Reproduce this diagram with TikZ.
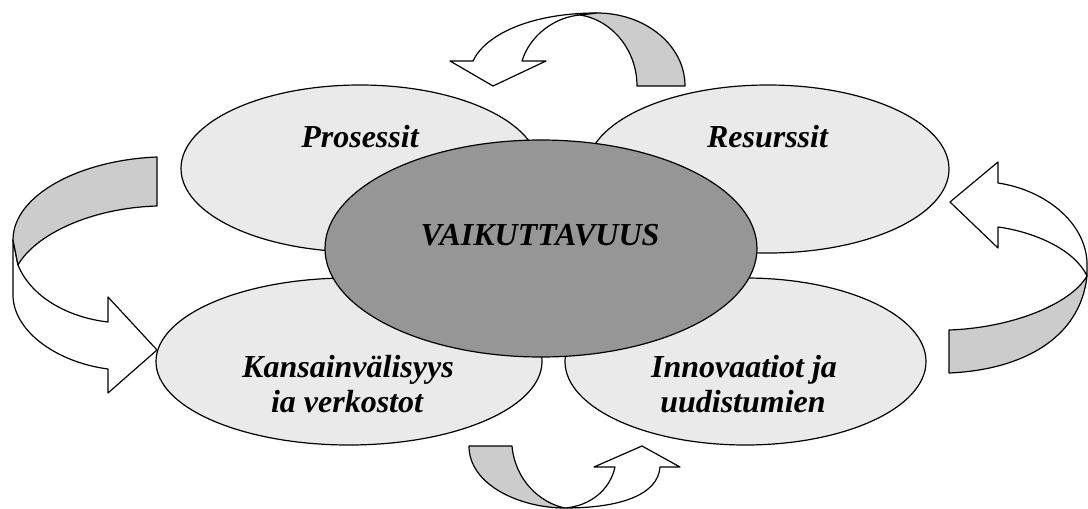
\documentclass[tikz,border=0pt]{standalone}
\usepackage{fontspec}
\setmainfont{Liberation Serif}
\usetikzlibrary{shapes.geometric}
\definecolor{petalfill}{RGB}{234,234,234}
\definecolor{corefill}{RGB}{150,150,150}
\definecolor{bandfill}{RGB}{204,204,204}
\tikzset{
  outline/.style={draw=black, line width=1.2pt, line join=round},
  petal/.style={ellipse, outline, fill=petalfill, inner sep=0pt},
  corebox/.style={ellipse, outline, fill=corefill, inner sep=0pt},
  lbl/.style={font=\fontsize{32}{35}\selectfont\bfseries\itshape, anchor=base, inner sep=0pt},
  ribbonback/.style={outline, fill=bandfill},
  ribbonfront/.style={outline, fill=white},
}
\begin{document}
\begin{tikzpicture}[x=1pt,y=-1pt]
\useasboundingbox (0,0) rectangle (1088,509);

% top curved arrow: white front band with head, grey back band
\path[ribbonfront] (597,13) .. controls (530,13) and (485,35) .. (473,61)
  -- (450,61) -- (493,86) -- (546,61) -- (522,61)
  .. controls (530,35) and (555,17) .. (580,15) -- cycle;
\path[ribbonback] (637,86) -- (685,86) .. controls (685,45) and (645,13) .. (597,13)
  -- (580,15) .. controls (612,20) and (637,50) .. (637,86) -- cycle;

% left curved arrow
\path[ribbonfront] (13,240) -- (13,295) .. controls (13,330) and (55,362) .. (108,369)
  -- (108,393) -- (157,350) -- (108,297) -- (108,322)
  .. controls (65,317) and (30,295) .. (18,265) -- cycle;
\path[ribbonback] (157,157) .. controls (80,160) and (13,195) .. (13,240)
  -- (18,265) .. controls (35,235) and (90,208) .. (157,206) -- cycle;

% right curved arrow
\path[ribbonfront] (1087,276) -- (1087,262) .. controls (1085,222) and (1045,190) .. (998,183)
  -- (998,162) -- (950,202) -- (998,248) -- (998,227)
  .. controls (1035,232) and (1075,250) .. (1087,276) -- cycle;
\path[ribbonback] (949,330) -- (949,373) .. controls (1020,370) and (1080,340) .. (1087,276)
  .. controls (1070,305) and (1010,328) .. (949,330) -- cycle;

% bottom curved arrow
\path[ribbonfront] (565,508) .. controls (620,508) and (658,495) .. (660,467)
  -- (680,467) -- (642,446) -- (594,467) -- (615,467)
  .. controls (610,490) and (590,506) .. (565,508) -- cycle;
\path[ribbonback] (469,446) -- (512,446) .. controls (515,480) and (540,503) .. (565,508)
  .. controls (520,508) and (469,485) .. (469,446) -- cycle;

% four outer ellipses
\node[petal, minimum width=358pt, minimum height=167pt] (proc) at (360,168.5) {};
\node[petal, minimum width=362pt, minimum height=168pt] (res) at (768,169) {};
\node[petal, minimum width=386pt, minimum height=167pt] (intl) at (349,361.5) {};
\node[petal, minimum width=361pt, minimum height=167pt] (innov) at (745.5,361.5) {};

% central ellipse
\node[corebox, minimum width=432pt, minimum height=217pt] (core) at (541,248.5) {};

% labels
\node[lbl] (procT) at (360,147) {Prosessit};
\node[lbl] (resT) at (767.5,147) {Resurssit};
\node[lbl] (coreT) at (540,245.5) {VAIKUTTAVUUS};
\node[lbl] (intlA) at (348,377) {Kansainvälisyys};
\node[lbl] (intlB) at (347,412) {ia verkostot};
\node[lbl] (innovA) at (744,377) {Innovaatiot ja};
\node[lbl] (innovB) at (743,412) {uudistumien};
\end{tikzpicture}
\end{document}
